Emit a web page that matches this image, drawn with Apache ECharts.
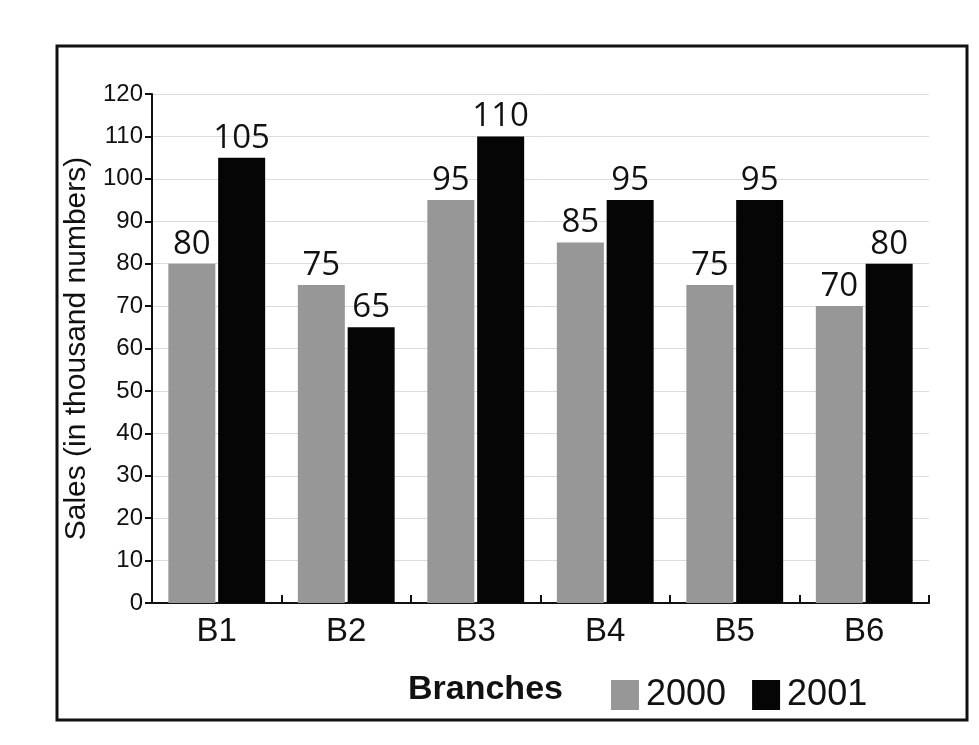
<!DOCTYPE html>
<html>
<head>
<meta charset="utf-8">
<script src="https://cdn.jsdelivr.net/npm/echarts@6/dist/echarts.min.js"></script>
<style>
html,body{margin:0;padding:0;background:#fff;}
#chart{width:979px;height:745px;}
</style>
</head>
<body>
<div id="chart"></div>
<script>
const categories = ['B1', 'B2', 'B3', 'B4', 'B5', 'B6'];
const sales2000 = [80, 75, 95, 85, 75, 70];
const sales2001 = [105, 65, 110, 95, 95, 80];
const yTicks = { min: 0, max: 120, interval: 10 };

const chart = echarts.init(document.getElementById('chart'));
const labelStyle = {
  show: true,
  position: 'top',
  distance: 3,
  fontFamily: 'Open Sans',
  fontSize: 33,
  color: '#111'
};
chart.setOption({
  backgroundColor: '#fff',
  animation: false,
  title: {
    text: 'Branches',
    left: 403,
    top: 668,
    textStyle: { fontFamily: 'Liberation Sans', fontWeight: 'bold', fontSize: 34, color: '#111' }
  },
  legend: {
    left: 606,
    top: 672,
    icon: 'rect',
    itemWidth: 28,
    itemHeight: 30,
    itemGap: 26,
    textStyle: { fontFamily: 'Liberation Sans', fontSize: 36, color: '#111', padding: [0, 0, 0, 2] },
    data: ['2000', '2001']
  },
  graphic: [{
    type: 'rect',
    shape: { x: 57, y: 46, width: 910, height: 674 },
    style: { fill: 'none', stroke: '#111', lineWidth: 3 },
    z: -1
  }],
  grid: { left: 152, right: 50, top: 94, bottom: 142, containLabel: false },
  xAxis: {
    type: 'category',
    data: categories,
    axisLine: { lineStyle: { color: '#111', width: 2 } },
    axisTick: { show: true, alignWithLabel: false, length: 8, inside: true, lineStyle: { color: '#111', width: 2 } },
    axisLabel: { fontFamily: 'Liberation Sans', fontSize: 33, color: '#111', margin: 12 }
  },
  yAxis: {
    type: 'value',
    min: yTicks.min,
    max: yTicks.max,
    interval: yTicks.interval,
    name: 'Sales (in thousand numbers)',
    nameLocation: 'middle',
    nameGap: 58,
    nameRotate: 90,
    nameTextStyle: { fontFamily: 'Liberation Sans', fontSize: 30, color: '#111' },
    axisLine: { show: true, lineStyle: { color: '#111', width: 2 } },
    axisTick: { show: true, length: 7, lineStyle: { color: '#111', width: 2 } },
    axisLabel: { fontFamily: 'Liberation Sans', fontSize: 24, color: '#111', margin: 9 },
    splitLine: { show: true, lineStyle: { color: '#dcdcdc', width: 1 } }
  },
  series: [
    {
      name: '2000',
      type: 'bar',
      data: sales2000,
      barWidth: 47,
      barGap: '6%',
      itemStyle: { color: '#979797' },
      label: labelStyle
    },
    {
      name: '2001',
      type: 'bar',
      data: sales2001,
      barWidth: 47,
      barGap: '6%',
      itemStyle: { color: '#050505' },
      label: labelStyle
    }
  ]
});
</script>
</body>
</html>
